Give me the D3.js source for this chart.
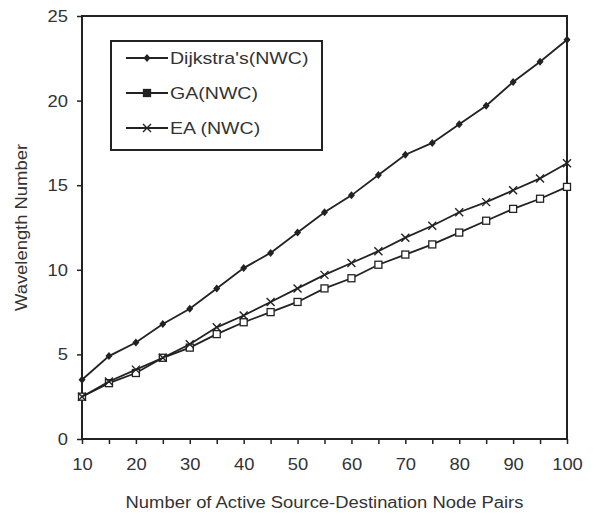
<!doctype html>
<html lang="en">
  <head>
    <meta charset="utf-8">
    <title>Wavelength Number</title>
    <style>
      body {
          margin: 0;
          background: #fff;
          font-family: "Liberation Sans", Arial, sans-serif;
      }
      .axis text {
          fill: #333;
      }
    </style>
    <script src="https://d3js.org/d3.v7.min.js"></script>
  </head>
  <body>
    <script>
      // data
      const pairs = [10, 15, 20, 25, 30, 35, 40, 45, 50, 55, 60, 65, 70, 75, 80, 85, 90, 95, 100];
      const dijkstra = [3.5, 4.9, 5.7, 6.8, 7.7, 8.9, 10.1, 11.0, 12.2, 13.4, 14.4, 15.6, 16.8, 17.5, 18.6, 19.7, 21.1, 22.3, 23.6];
      const ga = [2.5, 3.3, 3.9, 4.8, 5.4, 6.2, 6.9, 7.5, 8.1, 8.9, 9.5, 10.3, 10.9, 11.5, 12.2, 12.9, 13.6, 14.2, 14.9];
      const ea = [2.5, 3.4, 4.1, 4.8, 5.6, 6.6, 7.3, 8.1, 8.9, 9.7, 10.4, 11.1, 11.9, 12.6, 13.4, 14.0, 14.7, 15.4, 16.3];
      const seriesNames = ["Dijkstra's(NWC)", "GA(NWC)", "EA (NWC)"];
      const xTicks = [10, 20, 30, 40, 50, 60, 70, 80, 90, 100];
      const yTicks = [0, 5, 10, 15, 20, 25];

      const width = 593,
          height = 519,
          margin = {top: 16, right: 26, bottom: 80, left: 82};
      const stretch = 1.15; // the scanned text is a bit wide

      const x = d3.scaleLinear()
          .domain([10, 100])
          .range([margin.left, width - margin.right]);

      const y = d3.scaleLinear()
          .domain([0, 25])
          .range([height - margin.bottom, margin.top]);

      const svg = d3.select('body').append('svg')
          .attr('width', width)
          .attr('height', height);

      // widen a text node to match the reference
      const widen = function(sel, k) {
          sel.each(function() {
              const len = this.getComputedTextLength();
              d3.select(this)
                  .attr('textLength', len * (k || stretch))
                  .attr('lengthAdjust', 'spacingAndGlyphs');
          });
      };

      // x axis, minor ticks every 5
      const xAxis = svg.append('g')
          .attr('class', 'axis')
          .attr('transform', `translate(0,${y(0)})`)
          .call(d3.axisBottom(x).tickValues(pairs).tickSize(5).tickFormat(d => xTicks.includes(d) ? d : ''));
      xAxis.select('.domain').remove();
      xAxis.selectAll('.tick line').attr('stroke', '#222').attr('stroke-width', 1.5);
      xAxis.selectAll('.tick text')
          .attr('y', 19)
          .style('font-size', '17px')
          .style('font-family', '"Liberation Sans", Arial, sans-serif')
          .call(widen, 1.08);

      const yAxis = svg.append('g')
          .attr('class', 'axis')
          .attr('transform', `translate(${x(10)},0)`)
          .call(d3.axisLeft(y).tickValues(yTicks).tickSize(5));
      yAxis.select('.domain').remove();
      yAxis.selectAll('.tick line').attr('stroke', '#222').attr('stroke-width', 1.5);
      yAxis.selectAll('.tick text')
          .attr('x', -14)
          .style('font-size', '17px')
          .style('font-family', '"Liberation Sans", Arial, sans-serif')
          .call(widen, 1.08);

      // plot frame
      svg.append('rect')
          .attr('x', x(10))
          .attr('y', y(25))
          .attr('width', x(100) - x(10))
          .attr('height', y(0) - y(25))
          .attr('fill', 'none')
          .attr('stroke', '#222')
          .attr('stroke-width', 2);

      // axis titles
      svg.append('text')
          .attr('x', (x(10) + x(100)) / 2)
          .attr('y', 508)
          .attr('text-anchor', 'middle')
          .attr('fill', '#333')
          .style('font-size', '16px')
          .text('Number of Active Source-Destination Node Pairs')
          .call(widen);

      svg.append('text')
          .attr('transform', `translate(27,${(y(0) + y(25)) / 2}) rotate(-90)`)
          .attr('text-anchor', 'middle')
          .attr('fill', '#333')
          .style('font-size', '16px')
          .text('Wavelength Number')
          .call(widen);

      const line = d3.line()
          .x((d, i) => x(pairs[i]))
          .y(d => y(d));

      const allSeries = [dijkstra, ga, ea];
      const markerOf = ['diamond', 'square', 'cross'];

      const drawMarker = function(g, kind, cx, cy, filled) {
          if (kind === 'diamond') {
              g.append('path')
                  .attr('d', `M${cx},${cy - 4}L${cx + 3.5},${cy}L${cx},${cy + 4}L${cx - 3.5},${cy}Z`)
                  .attr('fill', '#222');
          } else if (kind === 'square') {
              g.append('rect')
                  .attr('x', cx - 3.5).attr('y', cy - 3.5)
                  .attr('width', 7).attr('height', 7)
                  .attr('fill', filled ? '#222' : '#fff')
                  .attr('stroke', '#222')
                  .attr('stroke-width', 1.3);
          } else {
              g.append('path')
                  .attr('d', `M${cx - 4},${cy - 4}L${cx + 4},${cy + 4}M${cx - 4},${cy + 4}L${cx + 4},${cy - 4}`)
                  .attr('stroke', '#222')
                  .attr('stroke-width', 1.4);
          }
      };

      allSeries.forEach((vals, s) => {
          const g = svg.append('g').attr('class', 'series');
          g.append('path')
              .datum(vals)
              .attr('d', line)
              .attr('fill', 'none')
              .attr('stroke', '#222')
              .attr('stroke-width', 1.8);
          vals.forEach((v, i) => drawMarker(g, markerOf[s], x(pairs[i]), y(v), false));
      });

      // legend
      const legend = svg.append('g').attr('class', 'legend');
      legend.append('rect')
          .attr('x', 111)
          .attr('y', 41)
          .attr('width', 211)
          .attr('height', 109)
          .attr('fill', '#fff')
          .attr('stroke', '#222')
          .attr('stroke-width', 2);

      seriesNames.forEach((name, s) => {
          const ly = 58 + s * 35;
          legend.append('line')
              .attr('x1', 126).attr('x2', 168)
              .attr('y1', ly).attr('y2', ly)
              .attr('stroke', '#222')
              .attr('stroke-width', 1.8);
          drawMarker(legend, markerOf[s], 147, ly, true);
          legend.append('text')
              .attr('x', 170)
              .attr('y', ly + 6)
              .attr('fill', '#333')
              .style('font-size', '17px')
              .text(name)
              .call(widen);
      });
    </script>
  </body>
</html>
